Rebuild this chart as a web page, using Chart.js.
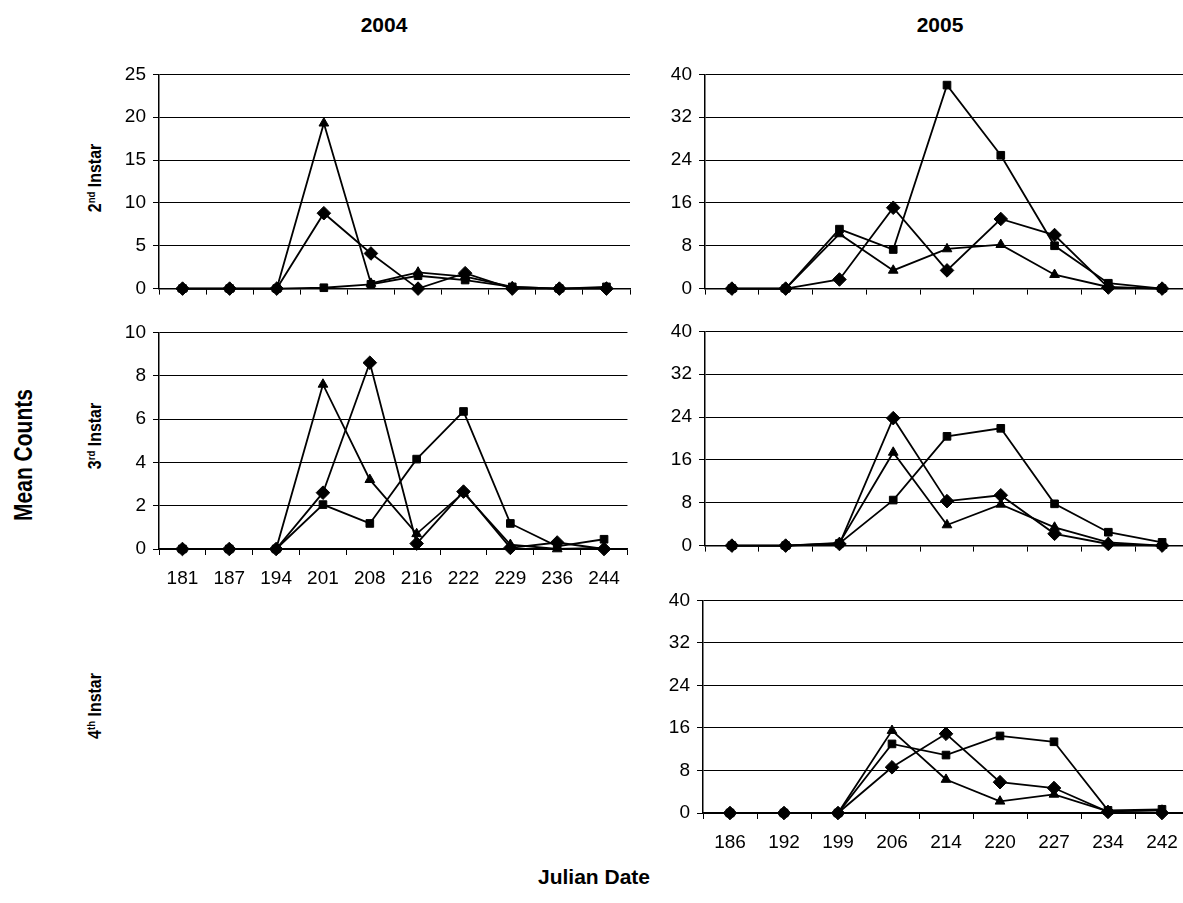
<!DOCTYPE html>
<html>
<head>
<meta charset="utf-8">
<script src="https://cdn.jsdelivr.net/npm/chart.js@4/dist/chart.umd.min.js"></script>
<style>
  html, body { margin: 0; padding: 0; background: #fff; }
  body { width: 1183px; height: 903px; position: relative; overflow: hidden; font-family: "Liberation Sans", Arial, sans-serif; color: #000; }
  canvas { position: absolute; }
  .lbl { position: absolute; white-space: nowrap; font-weight: bold; transform: translate(-50%, -50%); }
  /* narrow bold side labels, squeezed along the text direction */
  .rot { transform: translate(-50%, -50%) rotate(-90deg) scaleX(0.84); }
  .rot sup { font-size: 60%; vertical-align: 0.55em; line-height: 0; }
</style>
</head>
<body>
<div class="lbl" style="left:384px; top:25px; font-size:21px;">2004</div>
<div class="lbl" style="left:940px; top:25px; font-size:21px;">2005</div>
<div class="lbl rot" style="left:23px; top:455px; font-size:25px;">Mean Counts</div>
<div class="lbl rot" style="left:95px; top:178px; font-size:19px;">2<sup>nd</sup> Instar</div>
<div class="lbl rot" style="left:95px; top:436px; font-size:19px;">3<sup>rd</sup> Instar</div>
<div class="lbl rot" style="left:95px; top:706px; font-size:19px;">4<sup>th</sup> Instar</div>
<div class="lbl" style="left:594px; top:877px; font-size:21px;">Julian Date</div>

<canvas id="p2004_2"></canvas>
<canvas id="p2005_2"></canvas>
<canvas id="p2004_3"></canvas>
<canvas id="p2005_3"></canvas>
<canvas id="p2005_4"></canvas>

<script>
// Julian dates sampled each year
const days2004 = ["181", "187", "194", "201", "208", "216", "222", "229", "236", "244"];
const days2005 = ["186", "192", "199", "206", "214", "220", "227", "234", "242"];

// 2004, 2nd instar
const d04_2_diamond  = [0, 0, 0, 8.8, 4.1, 0, 1.8, 0, 0, 0];
const d04_2_square   = [0, 0, 0, 0.1, 0.5, 1.5, 1.0, 0.2, 0, 0.2];
const d04_2_triangle = [0, 0, 0, 19.3, 0.6, 1.9, 1.4, 0.2, 0, 0.1];

// 2005, 2nd instar
const d05_2_diamond  = [0, 0, 1.7, 15.1, 3.4, 13.0, 10.0, 0.2, 0];
const d05_2_square   = [0, 0, 11.1, 7.3, 38.0, 24.9, 8.0, 1.0, 0];
const d05_2_triangle = [0, 0, 10.2, 3.4, 7.4, 8.2, 2.6, 0.3, 0];

// 2004, 3rd instar
const d04_3_diamond  = [0, 0, 0, 2.6, 8.6, 0.25, 2.65, 0.05, 0.3, 0];
const d04_3_square   = [0, 0, 0, 2.05, 1.18, 4.15, 6.35, 1.18, 0.12, 0.45];
const d04_3_triangle = [0, 0, 0, 7.6, 3.2, 0.7, 2.6, 0.2, 0, 0.05];

// 2005, 3rd instar
const d05_3_diamond  = [0, 0, 0.3, 23.8, 8.3, 9.4, 2.2, 0.3, 0];
const d05_3_square   = [0, 0, 0.4, 8.5, 20.4, 21.9, 7.8, 2.5, 0.6];
const d05_3_triangle = [0, 0, 0.5, 17.4, 3.85, 7.7, 3.4, 0.6, 0];

// 2005, 4th instar
const d05_4_diamond  = [0, 0, 0, 8.6, 14.9, 5.8, 4.7, 0.2, 0];
const d05_4_square   = [0, 0, 0, 13.0, 10.9, 14.5, 13.4, 0.5, 0.7];
const d05_4_triangle = [0, 0, 0, 15.5, 6.3, 2.2, 3.5, 0.3, 0.5];

const TICK_FONT = { family: "'Liberation Sans', Arial, sans-serif", size: 19 };

function series(diamond, square, triangle) {
  const base = { borderColor: "#000", backgroundColor: "#000", borderWidth: 1.8, tension: 0, clip: false, pointBorderWidth: 1 };
  // first dataset is drawn on top
  return [
    { ...base, label: "diamond", data: diamond, pointStyle: "rectRot", pointRadius: 6.8 },
    { ...base, label: "square", data: square, pointStyle: "rect", pointRadius: 5.4 },
    { ...base, label: "triangle", data: triangle, pointStyle: "triangle", pointRadius: 5.6 },
  ];
}

// box = plot area in page pixels
function panel(id, labels, datasets, yMax, step, showX, box) {
  const padL = 70, padT = 14, padB = showX ? 50 : 12;
  const cv = document.getElementById(id);
  const w = box.r - box.l + padL + 2, h = box.b - box.t + padT + padB;
  cv.width = w; cv.height = h;
  cv.style.left = (box.l - padL) + "px"; cv.style.top = (box.t - padT) + "px";
  cv.style.width = w + "px"; cv.style.height = h + "px";
  new Chart(cv, {
    type: "line",
    data: { labels, datasets },
    options: {
      responsive: false, animation: false, devicePixelRatio: 1,
      layout: { padding: { top: padT, right: 2, left: 0, bottom: 0 }, autoPadding: false },
      plugins: { legend: { display: false }, tooltip: { enabled: false } },
      scales: {
        x: {
          offset: true,
          grid: { offset: true, drawOnChartArea: false, drawTicks: true, tickLength: 6, color: "#000" },
          border: { display: true, color: "#000", width: 1.5 },
          ticks: { display: showX, color: "#000", font: TICK_FONT, padding: 12, maxRotation: 0, autoSkip: false },
          afterFit: (s) => { s.height = padB; },
        },
        y: {
          min: 0, max: yMax,
          grid: { color: "#000", lineWidth: 1, tickLength: 6 },
          border: { display: true, color: "#000", width: 1.5 },
          ticks: { stepSize: step, color: "#000", font: TICK_FONT, padding: 7 },
          afterFit: (s) => { s.width = padL; },
        },
      },
    },
  });
}

panel("p2004_2", days2004, series(d04_2_diamond, d04_2_square, d04_2_triangle), 25, 5, false, { l: 159, t: 70, r: 630, b: 295 });
panel("p2005_2", days2005, series(d05_2_diamond, d05_2_square, d05_2_triangle), 40, 8, false, { l: 705, t: 70, r: 1189, b: 295 });
panel("p2004_3", days2004, series(d04_3_diamond, d04_3_square, d04_3_triangle), 10, 2, true, { l: 159, t: 328, r: 630, b: 549 });
panel("p2005_3", days2005, series(d05_3_diamond, d05_3_square, d05_3_triangle), 40, 8, false, { l: 705, t: 327, r: 1189, b: 552 });
panel("p2005_4", days2005, series(d05_4_diamond, d05_4_square, d05_4_triangle), 40, 8, true, { l: 703, t: 596, r: 1189, b: 813 });
</script>
</body>
</html>
